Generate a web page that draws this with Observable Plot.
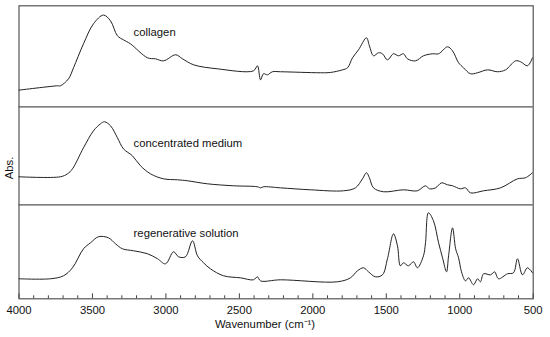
<!DOCTYPE html>
<html><head><meta charset="utf-8">
<script src="https://cdn.jsdelivr.net/npm/d3@7"></script>
<script src="https://cdn.jsdelivr.net/npm/@observablehq/plot@0.6"></script>
<style>body{margin:0;background:#fff}#chart{width:550px;height:337px}</style>
</head><body><div id="chart"></div>
<script>
const seriesNames = ["collagen", "concentrated medium", "regenerative solution"];

const wnCollagen  = [4000,3738,3718,3663,3629,3561,3493,3425,3377,3330,3289,3242,3125,3071,3016,2934,2887,2812,2649,2404,2377,2356,2336,2309,2275,2220,1948,1880,1798,1764,1730,1689,1635,1615,1587,1553,1526,1492,1451,1417,1383,1356,1301,1247,1185,1144,1083,1049,1008,974,927,879,811,743,688,620,586,539,505];
const absCollagen = [16.5,20.8,20.8,27.7,38.6,62.4,82.2,90.8,85.1,70.3,66.3,62.4,48.5,47.5,45.5,51.5,47.5,41.6,37.6,35.6,40.6,26.7,32.7,31.7,34.7,34.7,33.7,34.0,36.6,38.6,48.5,56.4,68.3,60.4,50.5,53.5,52.5,46.5,52.5,50.5,52.5,47.5,45.5,50.5,52.5,52.5,59.4,55.4,43.6,38.6,32.7,33.7,36.6,34.7,36.6,45.5,44.6,40.6,48.5];

const wnMedium  = [4000,3718,3670,3636,3561,3493,3445,3418,3377,3330,3289,3228,3173,3105,3016,2921,2853,2717,2540,2377,2356,2336,2220,2016,1791,1710,1662,1635,1615,1587,1519,1383,1288,1233,1206,1165,1124,1083,1049,995,961,927,838,722,607,552,505];
const absMedium = [28.6,28.6,31.6,36.7,58.2,75.5,82.7,84.7,80.6,68.4,57.1,50.0,39.8,31.6,26.5,25.5,24.5,21.4,19.4,18.4,17.3,18.4,17.3,15.3,14.3,17.3,26.5,32.7,27.6,17.3,13.3,15.3,14.3,19.4,16.3,17.3,22.4,20.4,19.4,16.3,17.3,12.2,14.3,17.3,26.5,27.6,32.7];

const wnRegen  = [4000,3786,3697,3636,3561,3513,3459,3391,3343,3296,3221,3125,3057,3003,2948,2914,2867,2819,2785,2744,2697,2608,2492,2404,2377,2356,2220,1832,1744,1696,1655,1621,1574,1526,1492,1451,1424,1404,1383,1349,1315,1288,1247,1233,1213,1179,1144,1117,1090,1076,1049,1028,1008,988,961,940,906,879,859,838,790,763,736,675,634,607,573,539,505];
const absRegen = [21.3,21.3,24.5,33.0,53.2,59.6,66.0,64.9,58.5,53.2,51.1,47.9,42.6,37.2,50.0,44.7,44.7,61.7,45.7,38.3,31.9,24.5,22.3,20.2,23.4,19.1,20.2,18.1,22.3,29.8,33.0,28.7,23.4,25.5,42.6,69.1,56.4,35.1,38.3,35.1,39.4,33.0,45.7,59.6,91.5,83.0,59.6,43.6,28.7,45.7,75.5,53.2,43.6,28.7,19.1,22.3,14.9,21.3,18.1,26.6,25.5,28.7,21.3,26.6,27.7,42.6,25.5,33.0,27.7];

const majorTicks = [4000,3500,3000,2500,2000,1500,1000,500];
const minorTicks = d3.range(500, 4001, 100).filter(d => d % 500 !== 0);

// stacked panels: each spectrum drawn in its own band of the shared Abs. axis
const panelSpan = [101, 98, 94];             // relative band sizes, top to bottom
const panelBase = [192, 94, 0];              // band bottoms (cumulative of spans below)
const panelTop = 293;

const rows = [];
[[wnCollagen, absCollagen], [wnMedium, absMedium], [wnRegen, absRegen]].forEach(([wn, ab], i) => {
  wn.forEach((w, j) => rows.push({series: seriesNames[i], wn: w, abs: panelBase[i] + ab[j] * panelSpan[i] / 100}));
});

const labels = seriesNames.map((s, i) => ({name: s, x: 3220, y: panelBase[i] + [74, 63, 70][i] * panelSpan[i] / 100}));

const font = "'Liberation Sans', Arial, Helvetica, sans-serif";
const plot = Plot.plot({
  width: 550, height: 337,
  marginLeft: 18.5, marginRight: 17.3, marginTop: 5.3, marginBottom: 38.7,
  style: {fontFamily: font, fontSize: "11.3px", color: "#111", background: "#fff"},
  x: {domain: [4000, 500]},
  y: {domain: [0, panelTop], axis: null},
  marks: [
    Plot.frame({stroke: "#555", strokeWidth: 1.2}),
    Plot.ruleY(panelBase.slice(0, 2), {stroke: "#555", strokeWidth: 1.2}),
    Plot.line(rows, {x: "wn", y: "abs", z: "series", stroke: "#222", strokeWidth: 1, curve: "catmull-rom"}),
    Plot.text(labels, {x: "x", y: "y", text: "name", textAnchor: "start", fill: "#111"}),
    Plot.axisX({ticks: majorTicks, tickSize: 0, tickPadding: 7, tickFormat: d => String(d), label: null, fill: "#111"}),
    Plot.axisX({ticks: majorTicks, tickSize: -5, tickFormat: () => "", label: null, stroke: "#444"}),
    Plot.axisX({ticks: minorTicks, tickSize: -3, tickFormat: () => "", label: null, stroke: "#444"})
  ]
});
document.getElementById("chart").appendChild(plot);

const svg = d3.select(plot);
svg.append("text").attr("x", 265).attr("y", 325).attr("text-anchor", "middle")
  .attr("dominant-baseline", "middle").attr("font-family", font).attr("font-size", "11.3px").attr("fill", "#111")
  .text("Wavenumber (cm⁻¹)");
svg.append("text").attr("transform", "translate(10,168) rotate(-90)").attr("text-anchor", "middle")
  .attr("dominant-baseline", "middle").attr("font-family", font).attr("font-size", "11.3px").attr("fill", "#111")
  .text("Abs.");
</script>
</body></html>
